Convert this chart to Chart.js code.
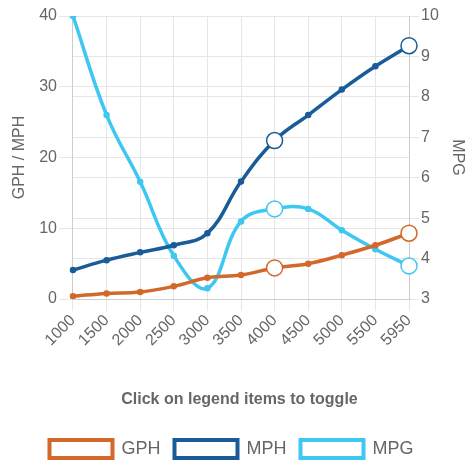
<!DOCTYPE html>
<html>
<head>
<meta charset="utf-8">
<script src="https://cdn.jsdelivr.net/npm/chart.js@4"></script>
<style>
  html, body { margin: 0; padding: 0; background: #fff; }
  #wrap { width: 470px; height: 462px; position: relative; }
</style>
</head>
<body>
<div id="wrap"><canvas id="myChart"></canvas></div>
<script>
// Chart data
var rpm = ['1000', '1500', '2000', '2500', '3000', '3500', '4000', '4500', '5000', '5500', '5950'];
var gph = [0.4, 0.8, 1.0, 1.8, 3.0, 3.4, 4.4, 5.0, 6.2, 7.6, 9.3];
var mph = [4.1, 5.5, 6.6, 7.6, 9.3, 16.6, 22.4, 26.0, 29.6, 32.9, 35.8];
var mpg = [10.0, 7.55, 5.9, 4.07, 3.27, 4.92, 5.23, 5.23, 4.7, 4.23, 3.82];

// which points are drawn as big hollow circles
var bigPoints = [6, 10];

function radii(small, big) {
  return rpm.map(function (r, i) { return bigPoints.indexOf(i) >= 0 ? big : small; });
}
function fills(color) {
  return rpm.map(function (r, i) { return bigPoints.indexOf(i) >= 0 ? '#fff' : color; });
}

var orange = '#d2692b';
var blue = '#1a5c97';
var cyan = '#3ec8f1';

var data = {
  labels: rpm,
  datasets: [
    {
      label: 'GPH',
      data: gph,
      yAxisID: 'y',
      borderColor: orange,
      backgroundColor: '#fff',
      borderWidth: 3.5,
      pointRadius: radii(2.5, 8),
      pointBackgroundColor: fills(orange),
      pointBorderColor: orange,
      pointBorderWidth: 1.5,
      tension: 0.4
    },
    {
      label: 'MPH',
      data: mph,
      yAxisID: 'y',
      borderColor: blue,
      backgroundColor: '#fff',
      borderWidth: 3.5,
      pointRadius: radii(2.5, 8),
      pointBackgroundColor: fills(blue),
      pointBorderColor: blue,
      pointBorderWidth: 1.5,
      tension: 0.4
    },
    {
      label: 'MPG',
      data: mpg,
      yAxisID: 'y1',
      borderColor: cyan,
      backgroundColor: '#fff',
      borderWidth: 3.5,
      pointRadius: radii(2.5, 8),
      pointBackgroundColor: fills(cyan),
      pointBorderColor: cyan,
      pointBorderWidth: 1.5,
      tension: 0.4
    }
  ]
};

var font = '"Helvetica Neue", Helvetica, Arial, "Liberation Sans", sans-serif';
Chart.defaults.font.family = font;
Chart.defaults.color = '#666';

// nudge the legend a little to the left, like the original
var legendShift = {
  id: 'legendShift',
  afterLayout: function (chart) {
    if (chart.legend) {
      chart.legend.left -= 8;
      chart.legend.right -= 8;
    }
  }
};

var config = {
  type: 'line',
  data: data,
  plugins: [legendShift],
  options: {
    responsive: true,
    maintainAspectRatio: false,
    animation: false,
    layout: { padding: { top: 16, left: 10, right: 1, bottom: -6 } },
    plugins: {
      title: {
        display: true,
        position: 'bottom',
        weight: 500,
        text: 'Click on legend items to toggle',
        font: { size: 16, weight: 'bold' },
        padding: { top: 40, bottom: 17 }
      },
      legend: {
        position: 'bottom',
        weight: 3000,
        labels: {
          boxWidth: 63,
          boxHeight: 18,
          padding: 14,
          font: { size: 18 },
          generateLabels: function (chart) {
            var items = Chart.defaults.plugins.legend.labels.generateLabels(chart);
            items.forEach(function (it) { it.lineWidth = 4; it.fillStyle = '#fff'; });
            return items;
          }
        }
      },
      tooltip: { enabled: false }
    },
    scales: {
      x: {
        grid: { color: '#e6e6e6', tickLength: 12 },
        border: { color: '#ccc' },
        ticks: { minRotation: 45, maxRotation: 45, font: { size: 16 }, padding: 0 }
      },
      y: {
        position: 'left',
        min: 0,
        max: 40,
        grid: { color: '#e6e6e6', tickLength: 14 },
        border: { color: '#ccc' },
        ticks: { stepSize: 10, font: { size: 16 }, padding: 2 },
        title: { display: true, text: 'GPH / MPH', font: { size: 16 }, padding: { top: 0, bottom: 8 } }
      },
      y1: {
        position: 'right',
        min: 3,
        max: 10,
        grid: { color: '#e6e6e6', tickLength: 10 },
        border: { color: '#ccc' },
        ticks: { stepSize: 1, font: { size: 16 }, padding: 2 },
        title: { display: true, text: 'MPG', font: { size: 16 }, padding: { top: 2, bottom: 7 } }
      }
    }
  }
};

// Create the chart
var myChart = new Chart(document.getElementById('myChart').getContext('2d'), config);
</script>
</body>
</html>
